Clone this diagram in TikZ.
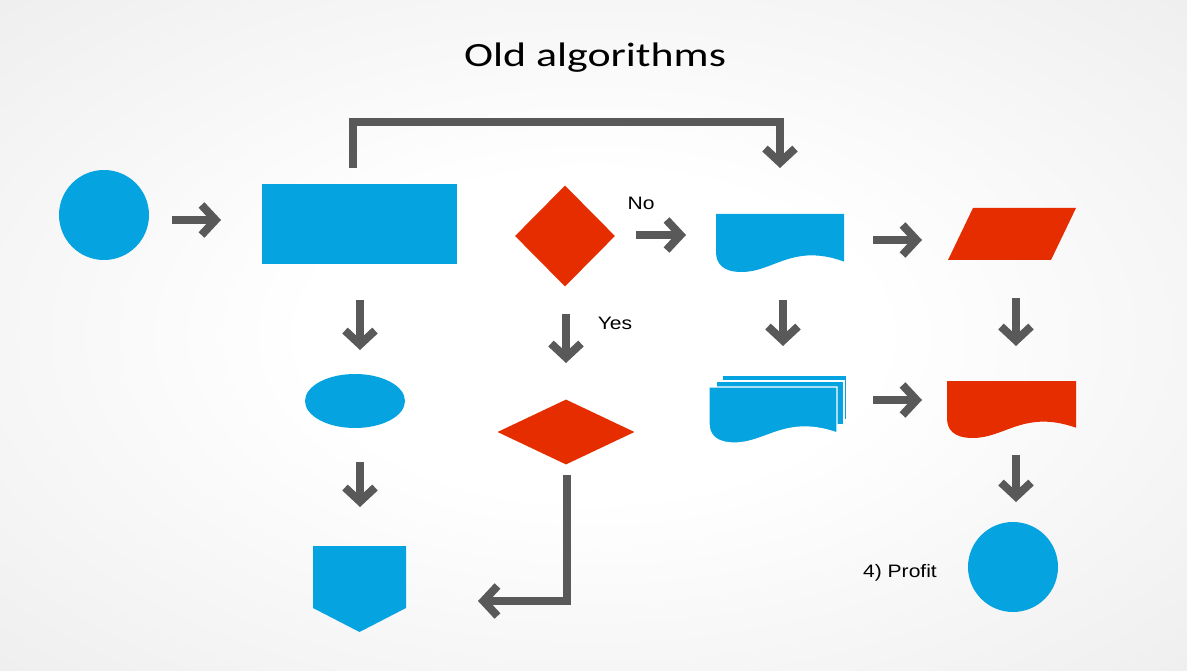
\documentclass[tikz,border=0pt]{standalone}
\usepackage{fontspec}
\setmainfont{Liberation Sans}
\newfontfamily\titlefont{Carlito}
\usetikzlibrary{arrows.meta,shapes.geometric}
\definecolor{fcblue}{RGB}{5,163,224}
\definecolor{fcred}{RGB}{230,45,0}
\definecolor{fcgray}{RGB}{89,89,89}
\pgfdeclareradialshading{bgshade}{\pgfpoint{0bp}{0bp}}{color(0bp)=(white); color(12bp)=(white); color(71bp)=(black!16)}
\newcommand{\docshape}[5]{%
  \path[#5] (#1,#2) -- ({#1+#3},#2) -- ({#1+#3},{#2+0.82*#4})
    .. controls ({#1+0.6*#3},{#2+0.5*#4}) and ({#1+0.45*#3},{#2+#4}) .. ({#1+0.2*#3},{#2+#4})
    .. controls ({#1+0.05*#3},{#2+#4}) and (#1,{#2+0.85*#4}) .. (#1,{#2+0.65*#4}) -- cycle;}
\begin{document}
\begin{tikzpicture}[x=1pt,y=-1pt,
  arr/.style={draw=fcgray, line width=8pt, line join=miter, -{Straight Barb[length=14pt,width=30pt]}},
  blueshape/.style={fill=fcblue, draw=none, inner sep=0pt},
  redshape/.style={fill=fcred, draw=none, inner sep=0pt},
  lbl/.style={font=\fontsize{18}{20}\selectfont, inner sep=0pt, anchor=base, xscale=1.17}]
\useasboundingbox (0,0) rectangle (1187,671);
\shade[shading=bgshade] (0,0) rectangle (1187,671);

% title
\node[font=\titlefont\fontsize{34}{40}\selectfont, inner sep=0pt, anchor=base, xscale=1.29] (title) at (595,67) {Old algorithms};

% shapes
\node[circle, blueshape, minimum size=90pt] (start) at (104,215) {};
\node[rectangle, blueshape, minimum width=195pt, minimum height=80pt] (proc) at (359.5,224) {};
\node[diamond, redshape, minimum width=100pt, minimum height=101pt] (dec1) at (565,236) {};
\node[diamond, redshape, minimum width=137pt, minimum height=65pt] (dec2) at (566,432) {};
\node[ellipse, blueshape, minimum width=100pt, minimum height=54pt] (term) at (355,401) {};
\node[circle, blueshape, minimum size=90pt] (finish) at (1013,567) {};

% off-page connector
\fill[fcblue] (313,546) -- (406,546) -- (406,608) -- (359.5,632) -- (313,608) -- cycle;
% parallelogram
\fill[fcred] (973,208) -- (1076,208) -- (1051,260) -- (948,260) -- cycle;
% documents
\docshape{716}{214}{128}{58}{fill=fcblue}
\docshape{947}{381}{129}{57}{fill=fcred}
% multi-document
\path[fill=fcblue, draw=white, line width=1.2pt] (722,375) rectangle (847,420);
\path[fill=fcblue, draw=white, line width=1.2pt] (716,381) rectangle (844,425);
\docshape{709}{387}{128}{56}{fill=fcblue, draw=white, line width=1.2pt}

% labels
\node[lbl] (no) at (641,210) {No};
\node[lbl] (yes) at (615,330) {Yes};
\node[lbl] (profit) at (900,577) {4) Profit};

% arrows
\coordinate (a1s) at (172,220); \coordinate (a1e) at (221,220);
\coordinate (a2s) at (636,235); \coordinate (a2e) at (686,235);
\coordinate (a3s) at (873,240); \coordinate (a3e) at (922,240);
\coordinate (a4s) at (873,400); \coordinate (a4e) at (922,400);
\coordinate (d1s) at (360,300); \coordinate (d1e) at (360,350);
\coordinate (d2s) at (566,314); \coordinate (d2e) at (566,363);
\coordinate (d3s) at (783,300); \coordinate (d3e) at (783,346);
\coordinate (d4s) at (1016,298); \coordinate (d4e) at (1016,346);
\coordinate (d5s) at (360,462); \coordinate (d5e) at (360,507);
\coordinate (d6s) at (1016,455); \coordinate (d6e) at (1016,502);
\foreach \n in {a1,a2,a3,a4,d1,d2,d3,d4,d5,d6} {\draw[arr] (\n s) -- (\n e);}

% long connectors
\coordinate (t1) at (353,168); \coordinate (t2) at (353,122);
\coordinate (t3) at (780,122); \coordinate (t4) at (780,168);
\draw[arr] (t1) -- (t2) -- (t3) -- (t4);
\coordinate (b1) at (567,475); \coordinate (b2) at (567,601); \coordinate (b3) at (478,601);
\draw[arr] (b1) -- (b2) -- (b3);
\end{tikzpicture}
\end{document}
